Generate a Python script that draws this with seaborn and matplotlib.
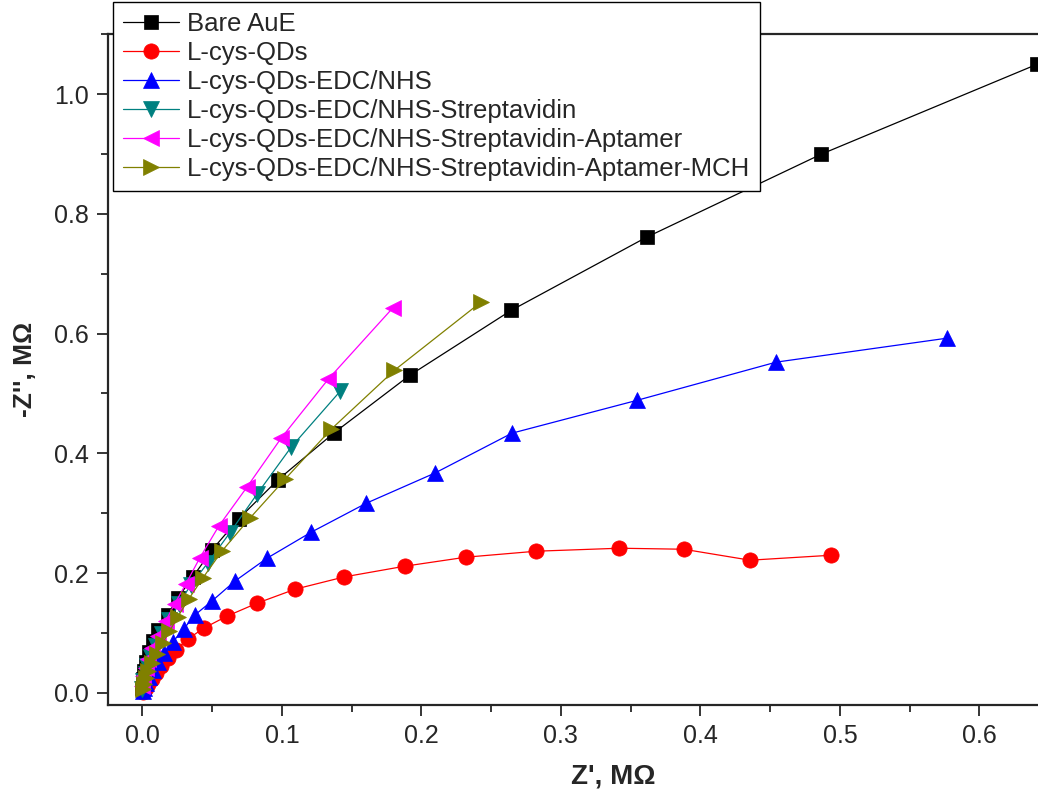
import pandas as pd
import matplotlib
matplotlib.use("Agg")
import matplotlib.pyplot as plt
import seaborn as sns
from matplotlib.ticker import MultipleLocator

# Nyquist data (Z' and -Z'' in MOhm)
labels = [
    "Bare AuE",
    "L-cys-QDs",
    "L-cys-QDs-EDC/NHS",
    "L-cys-QDs-EDC/NHS-Streptavidin",
    "L-cys-QDs-EDC/NHS-Streptavidin-Aptamer",
    "L-cys-QDs-EDC/NHS-Streptavidin-Aptamer-MCH",
]

bare_x = [0.6415, 0.4867, 0.3614, 0.2642, 0.1915, 0.1375, 0.0972, 0.0691, 0.0497, 0.0360,
          0.0252, 0.0180, 0.0115, 0.0079, 0.0050, 0.0029, 0.0014, 0.0007, 0.0, 0.0]
bare_y = [1.0501, 0.8998, 0.7610, 0.6386, 0.5301, 0.4344, 0.3559, 0.2907, 0.2381, 0.1930,
          0.1579, 0.1295, 0.1044, 0.0861, 0.0677, 0.0510, 0.0359, 0.0225, 0.0109, 0.0042]

qds_x = [0.4939, 0.4356, 0.3880, 0.3420, 0.2822, 0.2318, 0.1879, 0.1447, 0.1094, 0.0821,
         0.0605, 0.0439, 0.0324, 0.0238, 0.0180, 0.0130, 0.0094, 0.0065, 0.0043, 0.0029,
         0.0014, 0.0007]
qds_y = [0.2297, 0.2214, 0.2397, 0.2414, 0.2364, 0.2264, 0.2113, 0.1935, 0.1729, 0.1495,
         0.1278, 0.1078, 0.0894, 0.0710, 0.0577, 0.0443, 0.0326, 0.0226, 0.0142, 0.0075,
         0.0042, 0.0008]

edc_x = [0.5767, 0.4543, 0.3549, 0.2649, 0.2095, 0.1605, 0.1210, 0.0893, 0.0662, 0.0497,
         0.0374, 0.0295, 0.0216, 0.0158, 0.0115, 0.0079, 0.0050, 0.0029, 0.0014, 0.0007]
edc_y = [0.5923, 0.5523, 0.4887, 0.4336, 0.3668, 0.3166, 0.2682, 0.2247, 0.1863, 0.1529,
         0.1295, 0.1061, 0.0844, 0.0660, 0.0510, 0.0376, 0.0259, 0.0159, 0.0075, 0.0025]

strep_x = [0.1418, 0.1066, 0.0821, 0.0626, 0.0468, 0.0346, 0.0259, 0.0194, 0.0137, 0.0094,
           0.0058, 0.0036, 0.0022, 0.0007, 0.0, 0.0]
strep_y = [0.5038, 0.4102, 0.3317, 0.2669, 0.2168, 0.1797, 0.1479, 0.1211, 0.0978, 0.0777,
           0.0593, 0.0443, 0.0309, 0.0192, 0.0092, 0.0025]

apt_x = [0.1793, 0.1332, 0.0994, 0.0749, 0.0547, 0.0410, 0.0310, 0.0230, 0.0166, 0.0115,
         0.0072, 0.0043, 0.0022, 0.0007, -0.0005, -0.0005]
apt_y = [0.6424, 0.5238, 0.4252, 0.3434, 0.2782, 0.2247, 0.1813, 0.1479, 0.1195, 0.0944,
         0.0744, 0.0560, 0.0409, 0.0276, 0.0159, 0.0059]

mch_x = [0.2426, 0.1807, 0.1353, 0.1022, 0.0770, 0.0569, 0.0432, 0.0331, 0.0252, 0.0194,
         0.0144, 0.0101, 0.0072, 0.0043, 0.0029, 0.0014, 0.0007]
mch_y = [0.6524, 0.5388, 0.4402, 0.3567, 0.2915, 0.2364, 0.1913, 0.1562, 0.1262, 0.1028,
         0.0827, 0.0643, 0.0493, 0.0359, 0.0242, 0.0142, 0.0058]

series_x = [bare_x, qds_x, edc_x, strep_x, apt_x, mch_x]
series_y = [bare_y, qds_y, edc_y, strep_y, apt_y, mch_y]
colors = ["#000000", "#ff0000", "#0000ff", "#008080", "#ff00ff", "#808000"]
markers = ["s", "o", "^", "v", "<", ">"]
msizes = [9.5, 11, 12, 12, 12, 12]

sns.set_style("ticks")
plt.rcParams["font.family"] = ["Liberation Sans", "DejaVu Sans"]

fig = plt.figure(figsize=(10.38, 8.02), dpi=100)
ax = fig.add_axes([0.1043, 0.1209, 0.9736, 0.8363])

for lab, xs, ys, c, m, ms in zip(labels, series_x, series_y, colors, markers, msizes):
    df = pd.DataFrame({"Z'": xs, "-Z''": ys})
    sns.lineplot(data=df, x="Z'", y="-Z''", ax=ax, sort=False, color=c, marker=m,
                 markersize=ms, markeredgecolor=c, markeredgewidth=0.5,
                 linewidth=0.9, label=lab)

ax.set_xlim(-0.0245, 0.70)
ax.set_ylim(-0.0206, 1.10)
ax.xaxis.set_major_locator(MultipleLocator(0.1))
ax.xaxis.set_minor_locator(MultipleLocator(0.05))
ax.yaxis.set_major_locator(MultipleLocator(0.2))
ax.yaxis.set_minor_locator(MultipleLocator(0.1))
ax.set_xticks([0.0, 0.1, 0.2, 0.3, 0.4, 0.5, 0.6])
ax.tick_params(which="major", direction="out", length=8, width=1.3, pad=6, labelsize=18)
ax.tick_params(which="minor", direction="out", length=5, width=1.3)
for s in ax.spines.values():
    s.set_linewidth(1.6)

ax.set_xlabel("Z', M\u03a9", fontsize=20, fontweight="bold", labelpad=11)
ax.set_ylabel("-Z'', M\u03a9", fontsize=19, fontweight="bold", labelpad=12)

leg = ax.legend(loc="upper left", bbox_to_anchor=(113 / 1038, 1 - 2 / 802),
                bbox_transform=fig.transFigure, frameon=True, fancybox=False,
                prop={"size": 18.5}, handlelength=2.2,
                handletextpad=0.3, borderpad=0.38, labelspacing=0.2,
                borderaxespad=0)
leg.get_frame().set_edgecolor("black")
leg.get_frame().set_linewidth(1.0)
leg.get_frame().set_alpha(1)

fig.savefig("out.png", dpi=100)
